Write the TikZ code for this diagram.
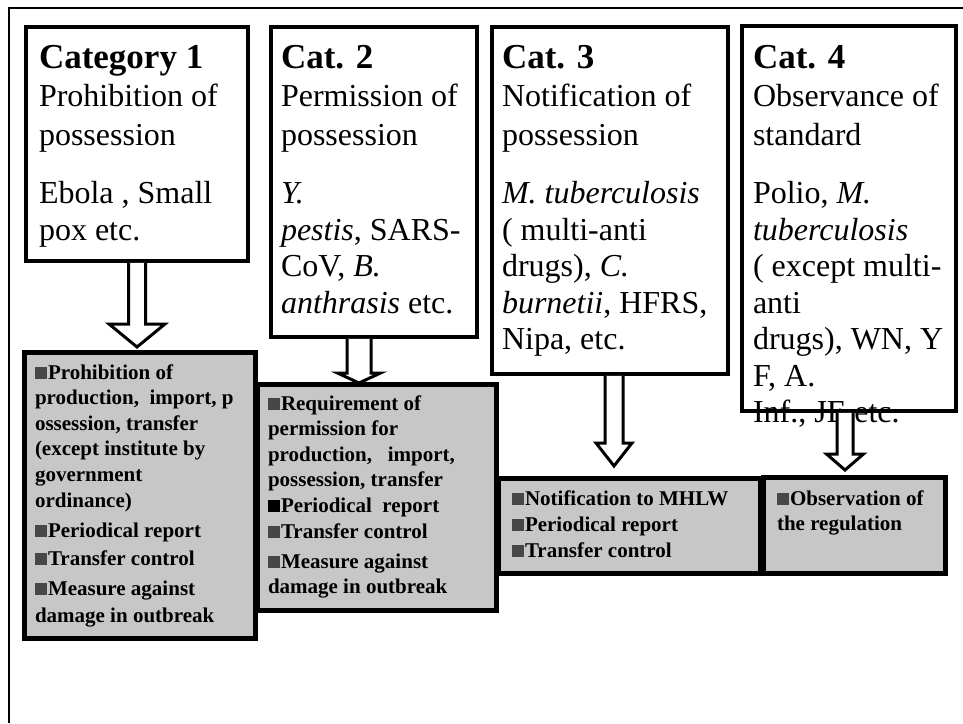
\documentclass[tikz,border=0pt]{standalone}
\usepackage{fontspec}
\setmainfont{Liberation Serif}
\usetikzlibrary{calc}
\tikzset{
  ubox/.style={draw=black, line width=3.5pt, fill=white, rectangle, inner sep=0pt, outer sep=0pt, anchor=north west},
  gbox/.style={draw=black, line width=5pt, fill=black!22, rectangle, inner sep=0pt, outer sep=0pt, anchor=north west},
  txt/.style={anchor=base west, inner sep=0pt, outer sep=0pt},
  blk/.style={draw=black, line width=3pt, fill=white, line join=miter},
  frame/.style={draw=black, line width=2.5pt, line join=miter},
}
\newcommand{\gbul}{\raisebox{0.5pt}{\color{black!72}\rule{11.5pt}{11.5pt}}\hspace{1.5pt}}
\newcommand{\kbul}{\raisebox{0.5pt}{\color{black}\rule{11.5pt}{11.5pt}}\hspace{1.5pt}}
% #1 from node, #2 to node, #3 x centre, #4 shaft half width, #5 head half width, #6 head height, #7 gap above target
\newcommand{\blockarr}[7]{%
  \draw[blk] let \p1=(#1.south), \p2=(#2.north) in
    (#3pt-#4pt,\y1-1.75pt) -- (#3pt-#4pt,\y2+#7pt+#6pt) -- (#3pt-#5pt,\y2+#7pt+#6pt)
    -- (#3pt,\y2+#7pt) -- (#3pt+#5pt,\y2+#7pt+#6pt) -- (#3pt+#4pt,\y2+#7pt+#6pt)
    -- (#3pt+#4pt,\y1-1.75pt);%
}
\begin{document}
\begin{tikzpicture}[x=1pt,y=-1pt]
\useasboundingbox (0,0) rectangle (963,723);
\fill[white] (0,0) rectangle (963,723);
\draw[frame] (9,723) -- (9,8) -- (963,8);

% upper boxes
\node[ubox, minimum width=222pt, minimum height=234pt] (b1) at (26,27) {};
\node[ubox, minimum width=206pt, minimum height=310pt] (b2) at (271,27) {};
\node[ubox, minimum width=236pt, minimum height=347pt] (b3) at (492,27) {};
\node[ubox, minimum width=214pt, minimum height=385pt] (b4) at (742,26) {};

\node[txt] (t1) at (39,68) {\parbox[t]{205pt}{\fontsize{32}{36.5}\selectfont
  {\fontsize{35}{37}\selectfont\bfseries Category 1}\\[2pt]
  Prohibition of\\[2pt]
  possession\\[22pt]
  Ebola , Small\\
  pox etc.}};
\node[txt] (t2) at (281,68) {\parbox[t]{192pt}{\fontsize{32}{36.5}\selectfont
  {\fontsize{35}{37}\selectfont\bfseries Cat. 2}\\[2pt]
  Permission of\\[2pt]
  possession\\[22pt]
  \textit{Y.}\\
  \textit{pestis}, SARS-\\
  CoV, \textit{B.}\\
  \textit{anthrasis} etc.}};
\node[txt] (t3) at (502,68) {\parbox[t]{222pt}{\fontsize{32}{36.5}\selectfont
  {\fontsize{35}{37}\selectfont\bfseries Cat. 3}\\[2pt]
  Notification of\\[2pt]
  possession\\[22pt]
  \textit{M. tuberculosis}\\
  ( multi-anti\\
  drugs), \textit{C.}\\
  \textit{burnetii}, HFRS,\\
  Nipa, etc.}};
\node[txt] (t4) at (753,68) {\parbox[t]{205pt}{\fontsize{32}{36.5}\selectfont
  {\fontsize{35}{37}\selectfont\bfseries Cat. 4}\\[2pt]
  Observance of\\[2pt]
  standard\\[22pt]
  Polio, \textit{M.}\\
  \textit{tuberculosis}\\
  ( except multi-\\
  anti\\
  drugs), WN, Y\\
  F, A.\\
  Inf., JE etc.}};

% lower grey boxes
\node[gbox, minimum width=231pt, minimum height=286pt] (g1) at (24,352) {};
\node[gbox, minimum width=239pt, minimum height=226pt] (g2) at (257,384) {};
\node[gbox, minimum width=262pt, minimum height=95pt] (g3) at (498,478) {};
\node[gbox, minimum width=182pt, minimum height=96pt] (g4) at (763,477) {};

\node[txt] (s1) at (35,379) {\parbox[t]{218pt}{\fontsize{21}{25.6}\selectfont\bfseries
  \gbul Prohibition of\\
  production,~ import, p\\
  ossession, transfer\\
  (except institute by\\
  government\\
  ordinance)\\[4.4pt]
  \gbul Periodical report\\[2.4pt]
  \gbul Transfer control\\[4.4pt]
  \gbul Measure against\\[1.4pt]
  damage in outbreak}};
\node[txt] (s2) at (268,410) {\parbox[t]{225pt}{\fontsize{21}{25.6}\selectfont\bfseries
  \gbul Requirement of\\
  permission for\\
  production,~~ import,\\
  possession, transfer\\
  \kbul Periodical~ report\\
  \gbul Transfer control\\[4.4pt]
  \gbul Measure against\\
  damage in outbreak}};
\node[txt] (s3) at (512,505) {\parbox[t]{245pt}{\fontsize{21}{26}\selectfont\bfseries
  \gbul Notification to MHLW\\
  \gbul Periodical report\\
  \gbul Transfer control}};
\node[txt] (s4) at (777,505) {\parbox[t]{165pt}{\fontsize{21}{25.5}\selectfont\bfseries
  \gbul Observation of\\
  the regulation}};

% block arrows
\blockarr{b1}{g1}{137}{8.5}{28}{23}{5}
\blockarr{b2}{g2}{359}{12}{21.5}{10}{1}
\blockarr{b3}{g3}{614}{9}{18}{23}{12}
\blockarr{b4}{g4}{845}{8}{18.5}{16}{7}
\end{tikzpicture}
\end{document}
